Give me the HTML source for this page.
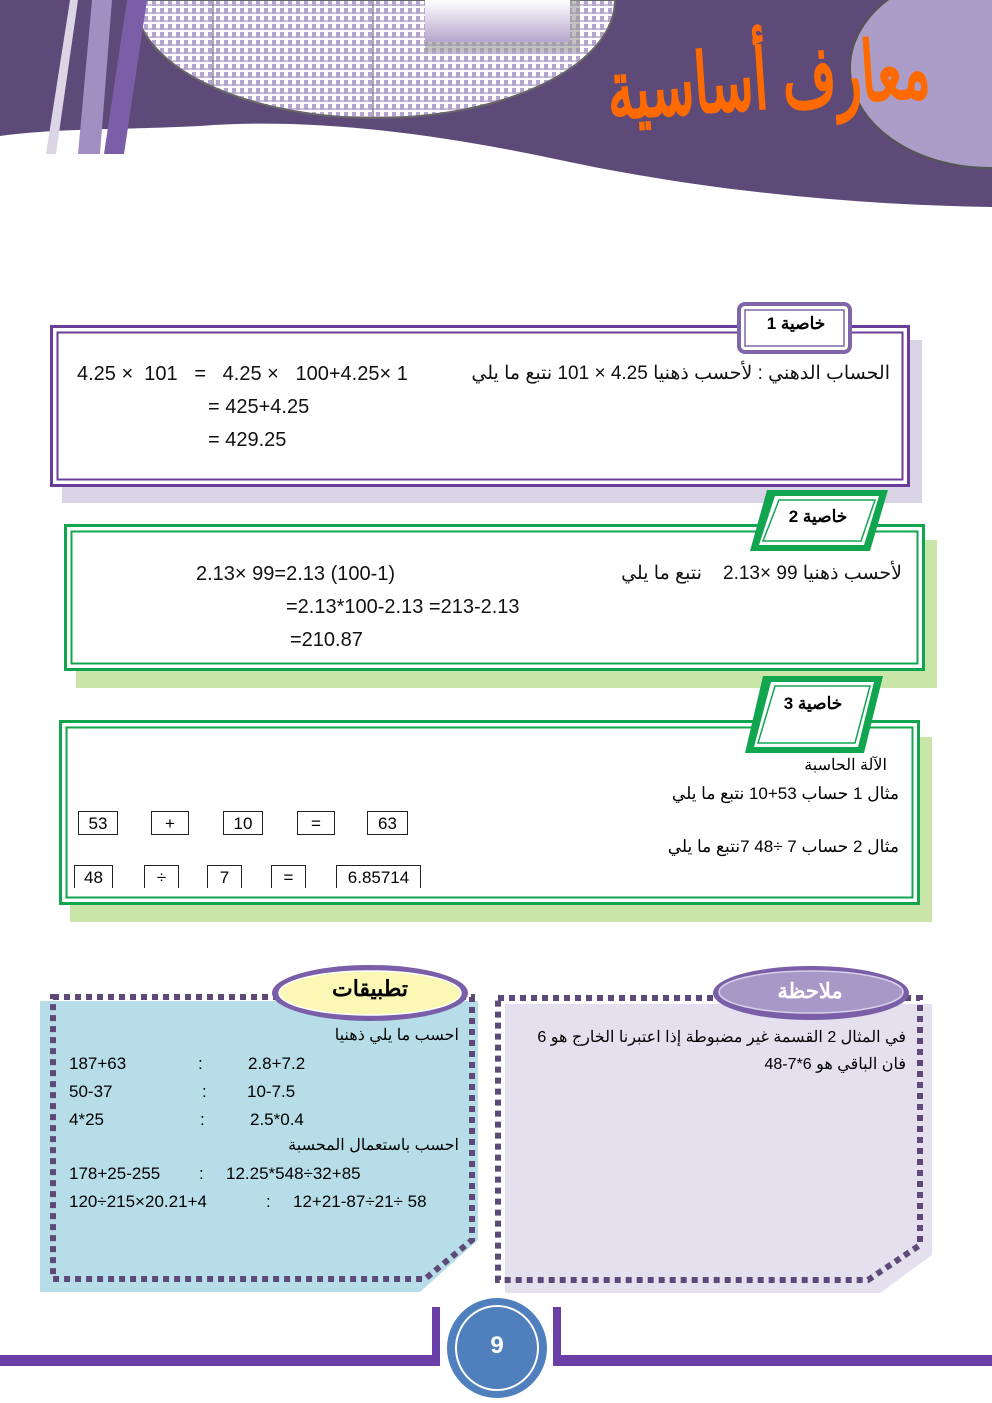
<!DOCTYPE html>
<html><head><meta charset="utf-8"><style>
body{margin:0;width:992px;height:1403px;position:relative;background:#fff;overflow:hidden;font-family:"Liberation Sans","Noto Sans CJK SC",sans-serif;}
.a{position:absolute;white-space:nowrap;}
.t{font-size:19px;color:#111;}
.ar{direction:rtl;}
.k{position:absolute;border:1.5px solid #222;border-bottom:none;font-size:17px;text-align:center;height:22px;line-height:24px;}
</style></head><body>
<svg class="a" style="left:0;top:0" width="992" height="1403">
<defs>
<pattern id="p" width="8" height="8" patternUnits="userSpaceOnUse"><rect width="8" height="8" fill="#fff"/><rect x="0" y="0" width="4" height="6" fill="#b3a5cf"/><rect x="4" y="4" width="4" height="2" fill="#c9bfdd"/></pattern>
<linearGradient id="g" x1="0" y1="0" x2="0" y2="1"><stop offset="0" stop-color="#fff"/><stop offset="1" stop-color="#b4a6cc"/></linearGradient>
</defs>
<path d="M0 0 H992 V207 C850 205 700 190 560 160 C420 130 300 118 200 126 C120 130 60 128 0 136 Z" fill="#5d4a78"/>
<path d="M135 0 H615 A240 118 0 0 1 135 0 Z" fill="url(#p)" stroke="#666" stroke-width="2"/>
<line x1="213" y1="0" x2="213" y2="90" stroke="#555" stroke-width="1"/>
<line x1="373" y1="0" x2="373" y2="117" stroke="#555" stroke-width="1"/>
<rect x="425" y="0" width="155" height="52" fill="#999" opacity="0.6"/>
<rect x="425" y="0" width="145" height="42" fill="url(#g)"/>
<ellipse cx="990" cy="68" rx="140" ry="100" fill="#ab9dc8" stroke="#555" stroke-width="2"/>
<polygon points="70,0 78,0 56,154 46,154" fill="#dcd5e6"/>
<polygon points="92,0 112,0 100,154 78,154" fill="#a08fc0"/>
<polygon points="127,0 147,0 124,154 104,154" fill="#7a5fa8"/>
<rect x="62" y="340" width="860" height="163" fill="#d9d3e6"/>
<rect x="51.5" y="326.5" width="857" height="159" fill="#fff" stroke="#6a3d9a" stroke-width="3"/>
<rect x="57.5" y="332.5" width="845" height="147" fill="none" stroke="#6a3d9a" stroke-width="2"/>
<rect x="739" y="304" width="111" height="48" rx="6" fill="#fff" stroke="#7f66a8" stroke-width="4"/>
<rect x="745" y="310" width="99" height="36" fill="none" stroke="#7f66a8" stroke-width="1.5"/>
<rect x="76" y="540" width="861" height="148" fill="#c9e6a8"/>
<rect x="65.5" y="525.5" width="858" height="144" fill="#fff" stroke="#12a550" stroke-width="3"/>
<rect x="71.5" y="531.5" width="846" height="132" fill="none" stroke="#12a550" stroke-width="2"/>
<polygon points="767,490 888,490 870,551 750,551" fill="#12a550"/>
<polygon points="775,496 879,496 864,545 759,545" fill="#fff"/>
<polygon points="779,500 875,500 861,541 763,541" fill="none" stroke="#12a550" stroke-width="1.5"/>
<rect x="70" y="737" width="862" height="185" fill="#c9e6a8"/>
<rect x="60.5" y="721.5" width="858" height="182" fill="#fff" stroke="#12a550" stroke-width="3"/>
<rect x="66.5" y="727.5" width="846" height="170" fill="none" stroke="#12a550" stroke-width="2"/>
<polygon points="763,676 883,676 864,753 745,753" fill="#12a550"/>
<polygon points="771,682 874,682 858,747 754,747" fill="#fff"/>
<polygon points="775,686 870,686 855,743 758,743" fill="none" stroke="#12a550" stroke-width="1.5"/>
<path d="M40 1001 H478 V1240 L420 1292 H40 Z" fill="#b7dde8"/>
<path d="M53 997 H472 V1240 L425 1279 H53 Z" fill="none" stroke="#5d4a78" stroke-width="6" stroke-dasharray="6 5"/>
<ellipse cx="370" cy="993" rx="98" ry="28" fill="#7a5fa8"/>
<ellipse cx="370" cy="993" rx="91" ry="22" fill="#fbf8b5" stroke="#fff" stroke-width="1.5"/>
<path d="M505 1004 H932 V1255 L880 1293 H505 Z" fill="#e5e0ee"/>
<path d="M498 998 H920 V1245 L868 1280 H498 Z" fill="none" stroke="#5d4a78" stroke-width="6" stroke-dasharray="6 5"/>
<ellipse cx="811" cy="993" rx="98" ry="27" fill="#7a5fa8"/>
<ellipse cx="811" cy="992" rx="92" ry="21" fill="#a898c8" stroke="#d8d0e6" stroke-width="1.5"/>
<rect x="0" y="1355" width="440" height="11" fill="#6a3fa8"/>
<rect x="553" y="1355" width="439" height="11" fill="#6a3fa8"/>
<rect x="432" y="1307" width="8" height="59" fill="#6a3fa8"/>
<rect x="553" y="1307" width="8" height="59" fill="#6a3fa8"/>
<ellipse cx="497" cy="1348" rx="50" ry="50" fill="#4f7fbd"/>
<ellipse cx="497" cy="1348" rx="41" ry="42" fill="none" stroke="#fff" stroke-width="2"/>
</svg>
<div class="a" style="left:630px;top:50px;width:300px;text-align:center;font-size:52px;font-weight:bold;color:#ff6a00;transform:rotate(-4deg) scaleY(1.6);direction:rtl;">معارف أساسية</div>

<div class="a ar" style="left:755px;top:314px;width:82px;text-align:center;font-size:17px;font-weight:bold;">خاصية 1</div>
<div class="a t ar" style="right:102px;top:362px;">الحساب الدهني : لأحسب ذهنيا 4.25 × 101 نتبع ما يلي</div>
<div class="a t" style="left:77px;top:363px;font-size:20px;">4.25 ×&nbsp; 101&nbsp;&nbsp; =&nbsp;&nbsp; 4.25 ×&nbsp;&nbsp; 100+4.25× 1</div>
<div class="a t" style="left:208px;top:396px;font-size:20px;">= 425+4.25</div>
<div class="a t" style="left:208px;top:429px;font-size:20px;">= 429.25</div>

<div class="a ar" style="left:773px;top:507px;width:90px;text-align:center;font-size:17px;font-weight:bold;">خاصية 2</div>
<div class="a t ar" style="right:90px;top:562px;">لأحسب ذهنيا 99 ×2.13&nbsp;&nbsp;&nbsp; نتبع ما يلي</div>
<div class="a t" style="left:196px;top:563px;font-size:20px;">2.13× 99=2.13 (100-1)</div>
<div class="a t" style="left:286px;top:596px;font-size:20px;">=2.13*100-2.13 =213-2.13</div>
<div class="a t" style="left:290px;top:629px;font-size:20px;">=210.87</div>

<div class="a ar" style="left:768px;top:694px;width:90px;text-align:center;font-size:17px;font-weight:bold;">خاصية 3</div>
<div class="a ar" style="right:105px;top:755px;font-size:16px;">الآلة الحاسبة</div>
<div class="a ar" style="right:93px;top:784px;font-size:17px;">مثال 1 حساب 53+10 نتبع ما يلي</div>
<div class="a ar" style="right:93px;top:837px;font-size:17px;">مثال 2 حساب 7 ÷48 7نتبع ما يلي</div>
<div class="k" style="left:78px;top:811px;width:38px;border-bottom:1.5px solid #222;">53</div>
<div class="k" style="left:151px;top:811px;width:36px;border-bottom:1.5px solid #222;">+</div>
<div class="k" style="left:223px;top:811px;width:38px;border-bottom:1.5px solid #222;">10</div>
<div class="k" style="left:297px;top:811px;width:36px;border-bottom:1.5px solid #222;">=</div>
<div class="k" style="left:367px;top:811px;width:39px;border-bottom:1.5px solid #222;">63</div>
<div class="k" style="left:74px;top:865px;width:37px;">48</div>
<div class="k" style="left:144px;top:865px;width:33px;">÷</div>
<div class="k" style="left:207px;top:865px;width:33px;">7</div>
<div class="k" style="left:271px;top:865px;width:33px;">=</div>
<div class="k" style="left:336px;top:865px;width:83px;">6.85714</div>

<div class="a ar" style="left:290px;top:976px;width:160px;text-align:center;font-size:22px;font-weight:bold;">تطبيقات</div>
<div class="a ar" style="right:533px;top:1025px;font-size:16px;">احسب ما يلي ذهنيا</div>
<div class="a" style="left:69px;top:1054px;font-size:17px;">187+63</div><div class="a" style="left:198px;top:1054px;font-size:17px;">:</div><div class="a" style="left:248px;top:1054px;font-size:17px;">2.8+7.2</div>
<div class="a" style="left:69px;top:1082px;font-size:17px;">50-37</div><div class="a" style="left:202px;top:1082px;font-size:17px;">:</div><div class="a" style="left:247px;top:1082px;font-size:17px;">10-7.5</div>
<div class="a" style="left:69px;top:1110px;font-size:17px;">4*25</div><div class="a" style="left:200px;top:1110px;font-size:17px;">:</div><div class="a" style="left:250px;top:1110px;font-size:17px;">2.5*0.4</div>
<div class="a ar" style="right:533px;top:1135px;font-size:16px;">احسب باستعمال المحسبة</div>
<div class="a" style="left:69px;top:1164px;font-size:17px;">178+25-255</div><div class="a" style="left:199px;top:1164px;font-size:17px;">:</div><div class="a" style="left:226px;top:1164px;font-size:17px;">12.25*548÷32+85</div>
<div class="a" style="left:69px;top:1192px;font-size:17px;">120÷215×20.21+4</div><div class="a" style="left:266px;top:1192px;font-size:17px;">:</div><div class="a" style="left:293px;top:1192px;font-size:17px;">12+21-87÷21÷ 58</div>

<div class="a ar" style="left:730px;top:979px;width:160px;text-align:center;font-size:21px;font-weight:bold;color:#fff;">ملاحظة</div>
<div class="a ar" style="right:86px;top:1027px;font-size:16px;">في المثال 2 القسمة غير مضبوطة إذا اعتبرنا الخارج هو 6</div>
<div class="a ar" style="right:86px;top:1054px;font-size:16px;">فان الباقي هو 6*7-48</div>
<div class="a" style="left:477px;top:1332px;width:40px;text-align:center;font-size:24px;font-weight:bold;color:#fff;">9</div>
</body></html>
